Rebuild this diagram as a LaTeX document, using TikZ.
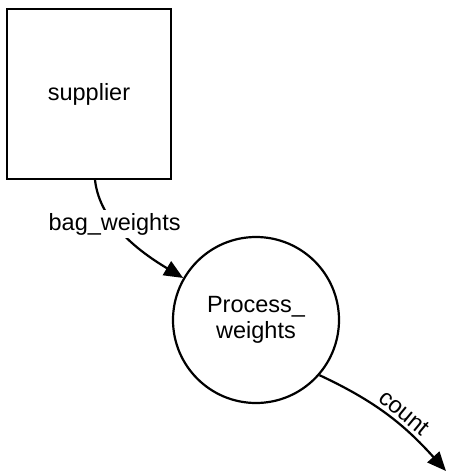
\documentclass[tikz,border=0pt]{standalone}
\usepackage{fontspec}
\setmainfont{Liberation Sans}
\usetikzlibrary{arrows.meta}
\begin{document}
\begin{tikzpicture}[x=1pt,y=-1pt,
  every node/.style={font=\fontsize{23.5}{28}\selectfont},
  box/.style={draw, line width=2.2pt, minimum width=164pt, minimum height=170pt, inner sep=0pt},
  proc/.style={draw, circle, line width=2.2pt, minimum size=166pt, inner sep=0pt, align=center},
  flow/.style={line width=2.2pt, -{Triangle[length=19pt,width=16pt]}},
  lbl/.style={fill=white, inner sep=3pt}]
\useasboundingbox (0,0) rectangle (451,474);
\node[box] (sup) at (89,94) {supplier};
\node[proc] (pw) at (256,320) {Process\_\\[-2pt]weights};
\coordinate (out) at (446,471);
\draw[flow] (sup.-86) .. controls (100,225) and (145,255) .. node[lbl,pos=0.37] (bw) {bag\_weights} (pw.150);
\draw[flow] (pw.-41.6) to[out=-25,in=132] node[pos=0.57,sloped,above=0pt] (ct) {count} (out);
\end{tikzpicture}
\end{document}
